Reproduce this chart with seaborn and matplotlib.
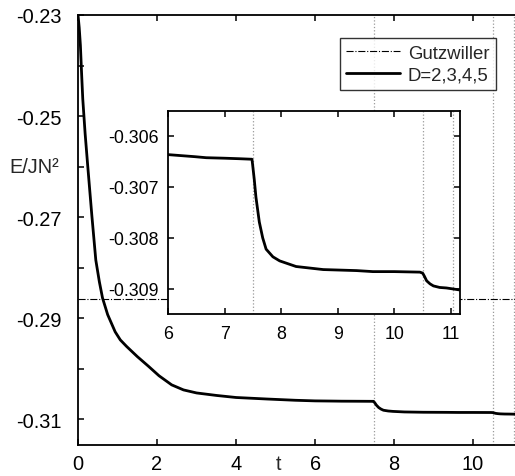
import pandas as pd
import matplotlib
matplotlib.use('Agg')
import matplotlib.pyplot as plt
import seaborn as sns
from matplotlib.ticker import FixedLocator, FormatStrFormatter

# energy per site vs time
t_vals = [0.0, 0.03, 0.06, 0.09, 0.12, 0.18, 0.245, 0.30, 0.35, 0.45, 0.54, 0.62,
          0.75, 0.94, 1.07, 1.23, 1.5, 1.78, 2.05, 2.37, 2.67, 3.0, 3.51, 4.0, 4.78,
          5.5, 6.0, 6.47, 6.67, 7.0, 7.26, 7.48, 7.49, 7.52, 7.55, 7.61, 7.67,
          7.73, 7.85, 7.97, 8.26, 8.74, 9.33, 9.62, 10.0, 10.45, 10.5, 10.53,
          10.57, 10.63, 10.69, 10.8, 10.92, 11.04, 11.16]
energy = [-0.2300, -0.2325, -0.2360, -0.2415, -0.2466, -0.2535, -0.2598, -0.2650,
          -0.2697, -0.2785, -0.2828, -0.2860, -0.2893, -0.2927, -0.2943, -0.2956,
          -0.2976, -0.2995, -0.3014, -0.3032, -0.3042, -0.3048, -0.3053,
          -0.3057, -0.3060, -0.30625, -0.30637, -0.30641, -0.30643, -0.30644,
          -0.30645, -0.30646, -0.30655, -0.30685, -0.30720, -0.30769, -0.30800,
          -0.30822, -0.30837, -0.30845, -0.30856, -0.30862, -0.30864, -0.30866,
          -0.30866, -0.30867, -0.30869, -0.30875, -0.30884, -0.30890, -0.30894,
          -0.30897, -0.30898, -0.30900, -0.30902]
gutzwiller_energy = -0.2863
d_switch_times = [7.5, 10.5, 11.04]

main_xticks = [0, 2, 4, 6, 8, 10]
main_yticks = [-0.31, -0.29, -0.27, -0.25, -0.23]
main_yminor = [-0.30, -0.28, -0.26, -0.24]
inset_xticks = [6, 7, 8, 9, 10, 11]
inset_yticks = [-0.309, -0.308, -0.307, -0.306]

df = pd.DataFrame({'t': t_vals, 'E': energy})

sns.set_style("ticks")
plt.rcParams['font.family'] = ['Liberation Sans', 'DejaVu Sans']
plt.rcParams['xtick.direction'] = 'in'
plt.rcParams['ytick.direction'] = 'in'
fs_main = 14.4
fs_inset = 12.8
fs_leg = 13.4

fig = plt.figure(figsize=(5.15, 4.77), dpi=100)
ax = fig.add_axes([0.1515, 0.065, 0.8485, 0.9015])

for tv in d_switch_times:
    ax.axvline(tv, color='0.6', ls=':', lw=0.9, zorder=1)
ax.axhline(gutzwiller_energy, color='black', ls='-.', lw=0.8, label='Gutzwiller', zorder=2)
sns.lineplot(data=df, x='t', y='E', ax=ax, color='black', lw=2.0, label='D=2,3,4,5',
             sort=False, estimator=None, zorder=3)

ax.set_xlim(0, 11.06)
ax.set_ylim(-0.3151, -0.23)
ax.xaxis.set_major_locator(FixedLocator(main_xticks))
ax.yaxis.set_major_locator(FixedLocator(main_yticks))
ax.yaxis.set_minor_locator(FixedLocator(main_yminor))
ax.yaxis.set_major_formatter(FormatStrFormatter('%.2f'))
ax.tick_params(which='both', length=4, width=1.1, labelsize=fs_main, colors='black',
               top=True, right=False)
ax.tick_params(axis='y', pad=11.5)
ax.tick_params(axis='x', pad=6.5)
for side in ['left', 'bottom', 'top']:
    ax.spines[side].set_linewidth(1.3)
    ax.spines[side].set_color('black')
ax.spines['right'].set_visible(False)

ax.set_xlabel('t', fontsize=fs_main)
ax.xaxis.set_label_coords(0.458, -0.022)
ax.set_ylabel('E/JN²', fontsize=fs_main, rotation=0, ha='left', va='center')
ax.yaxis.set_label_coords(-0.156, 0.647)

leg = ax.legend(loc='upper right', bbox_to_anchor=(0.956, 0.9465), borderaxespad=0,
                fontsize=fs_leg, frameon=True, fancybox=False, edgecolor='black',
                handlelength=2.9, labelspacing=0.25, borderpad=0.35, handletextpad=0.4)
leg.get_frame().set_linewidth(1.0)
leg.set_zorder(5)

# inset zoom on the late-time plateaus
axin = fig.add_axes([0.3268, 0.3396, 0.5664, 0.4262])
axin.set_facecolor('white')
axin.set_zorder(4)
for tv in d_switch_times:
    axin.axvline(tv, color='0.6', ls=':', lw=0.9, zorder=1)
sns.lineplot(data=df, x='t', y='E', ax=axin, color='black', lw=2.0, legend=False,
             sort=False, estimator=None, zorder=3)
axin.set_xlim(6, 11.16)
axin.set_ylim(-0.30949, -0.30551)
axin.xaxis.set_major_locator(FixedLocator(inset_xticks))
axin.yaxis.set_major_locator(FixedLocator(inset_yticks))
axin.yaxis.set_major_formatter(FormatStrFormatter('%.3f'))
axin.tick_params(length=4, width=1.1, labelsize=fs_inset, colors='black',
                 top=True, right=True)
axin.tick_params(axis='y', pad=7)
axin.tick_params(axis='x', pad=8)
for side in axin.spines.values():
    side.set_linewidth(1.3)
    side.set_color('black')
axin.set_xlabel('')
axin.set_ylabel('')

fig.savefig('out.png', dpi=100)
